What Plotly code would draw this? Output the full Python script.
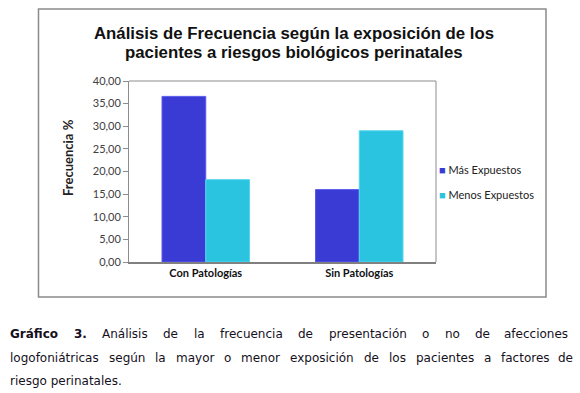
import plotly.graph_objects as go

categories = ["Con Patologías", "Sin Patologías"]
mas_expuestos = [36.6, 16.0]
menos_expuestos = [18.2, 29.0]
series_names = ["Más Expuestos", "Menos Expuestos"]
y_ticks = [0, 5, 10, 15, 20, 25, 30, 35, 40]

title_lines = ["Análisis de Frecuencia según la exposición de los",
               "pacientes a riesgos biológicos perinatales"]
y_title = "Frecuencia %"
caption_bold = "Gráfico 3."
caption_line1 = "Análisis de la frecuencia de presentación o no de afecciones"
caption_line2 = "logofoniátricas según la mayor o menor exposición de los pacientes a factores de"
caption_line3 = "riesgo perinatales."

W, H = 580, 393
PL, PR, PT, PB = 129, 436, 81, 262  # plot area in pixels


def px(x):
    return (x - PL) / (PR - PL)


def py(y):
    return (PB - y) / (PB - PT)


colors = ["#3A3AD4", "#2BC4E0"]
borders = ["#5A5AF0", "#55D6EE"]

fig = go.Figure()
for name, vals, c, b in zip(series_names, [mas_expuestos, menos_expuestos], colors, borders):
    fig.add_trace(go.Bar(x=categories, y=vals, name=name, showlegend=False,
                         marker=dict(color=c, line=dict(color=b, width=1))))

fig.update_layout(
    width=W, height=H,
    margin=dict(l=PL, r=W - PR, t=PT, b=H - PB),
    paper_bgcolor="white", plot_bgcolor="white",
    barmode="group", bargap=0.43, bargroupgap=0,
    separators=",.",
    xaxis=dict(showline=True, linecolor="#808080", linewidth=1.5, mirror=False,
               tickfont=dict(family="Lato, Arial", size=11, color="#111"),
               ticks="", showgrid=False,
               tickvals=categories, ticktext=["<b>%s</b>" % c for c in categories]),
    yaxis=dict(range=[0, 40], tickvals=y_ticks, tickformat=".2f",
               showline=True, linecolor="#8c8c8c", linewidth=1,
               ticks="outside", ticklen=5, tickcolor="#8c8c8c",
               showgrid=False, zeroline=False,
               tickfont=dict(family="Lato, Arial", size=11, color="#404040")),
    font=dict(family="Lato, Arial"),
)

shapes = [
    dict(type="rect", xref="paper", yref="paper",
         x0=px(38.5), x1=px(546), y0=py(297), y1=py(9),
         line=dict(color="#8a8a8a", width=1.5), fillcolor="rgba(0,0,0,0)", layer="below"),
    dict(type="line", xref="paper", yref="paper", x0=0, x1=1, y0=1, y1=1,
         line=dict(color="#8c8c8c", width=1)),
    dict(type="line", xref="paper", yref="paper", x0=1, x1=1, y0=0, y1=1,
         line=dict(color="#8c8c8c", width=1)),
]
fig.update_layout(shapes=shapes)

ann = []
for i, t in enumerate(title_lines):
    ann.append(dict(text="<b>" + t + "</b>", xref="paper", yref="paper",
                    x=px(294), y=py(33 + 20 * i), xanchor="center", yanchor="middle",
                    showarrow=False,
                    font=dict(family="Liberation Sans, Arial", size=16.8, color="#111")))
ann.append(dict(text="<b>" + y_title + "</b>", xref="paper", yref="paper",
                x=px(68), y=py(158), xanchor="center", yanchor="middle", textangle=-90,
                showarrow=False, font=dict(family="Lato, Arial", size=13, color="#222")))

# legend (manual, to match the compact swatch spacing)
for i, (name, c) in enumerate(zip(series_names, colors)):
    ann.append(dict(text='<span style="color:%s">■</span> %s' % (c, name),
                    xref="paper", yref="paper", x=px(437), y=py(169 + 25 * i),
                    xanchor="left", yanchor="middle", showarrow=False,
                    font=dict(family="Lato, Arial", size=11, color="#222")))

# justified caption using DejaVu Sans advance widths (em units)
REG = {' ': .318, 'a': .613, 'b': .635, 'c': .550, 'd': .635, 'e': .615, 'f': .352,
       'g': .635, 'h': .634, 'i': .278, 'j': .278, 'k': .579, 'l': .278, 'm': .974,
       'n': .634, 'o': .612, 'p': .635, 'q': .635, 'r': .411, 's': .521, 't': .392,
       'u': .634, 'v': .592, 'w': .818, 'x': .592, 'y': .592, 'z': .525, '.': .318,
       'á': .613, 'ó': .612, 'í': .278, 'ú': .634, 'é': .615, 'A': .684}
BOLD = {'G': .821, 'r': .493, 'á': .675, 'f': .435, 'i': .343, 'c': .593, 'o': .687,
        ' ': .348, '3': .696, '.': .380}
FS = 12
CAP_FONT = dict(family="DejaVu Sans, Verdana", size=FS, color="#15101c")


def width(word, bold=False):
    tab = BOLD if bold else REG
    return sum(tab.get(ch, .6) for ch in word) * FS


def justify(words, y, left, right):
    total = sum(width(w, b) for w, b in words)
    gap = (right - left - total) / (len(words) - 1)
    x = left
    for k, (w, b) in enumerate(words):
        txt = "<b>%s</b>" % w if b else w
        last = k == len(words) - 1
        ann.append(dict(text=txt, xref="paper", yref="paper",
                        x=px(right if last else x), y=py(y),
                        xanchor="right" if last else "left", yanchor="middle",
                        showarrow=False, borderpad=0, font=CAP_FONT))
        x += width(w, b) + gap


words1 = [(w, True) for w in caption_bold.split()] + [(w, False) for w in caption_line1.split()]
words2 = [(w, False) for w in caption_line2.split()]
justify(words1, 334, 9, 569)
justify(words2, 357.5, 9, 574)
ann.append(dict(text=caption_line3, xref="paper", yref="paper", x=px(9), y=py(381),
                xanchor="left", yanchor="middle", showarrow=False, borderpad=0,
                font=CAP_FONT))

fig.update_layout(annotations=ann)

fig.write_html("out.html", config={"displayModeBar": False},
               post_script="document.body.style.margin='0';")
